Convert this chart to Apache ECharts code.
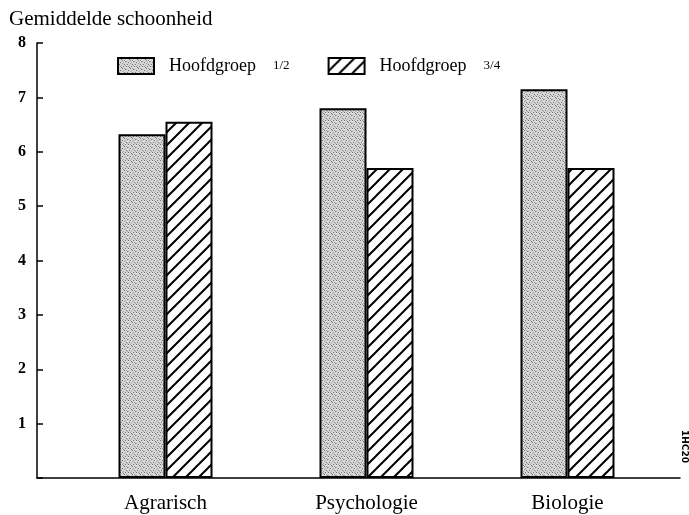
<!DOCTYPE html>
<html>
<head>
<meta charset="utf-8">
<script src="https://cdn.jsdelivr.net/npm/echarts@6/dist/echarts.min.js"></script>
<style>
html, body { margin: 0; padding: 0; background: #fff; }
#main { width: 689px; height: 515px; }
</style>
</head>
<body>
<div id="main"></div>
<script>
var categories = ['Agrarisch', 'Psychologie', 'Biologie'];
var seriesNames = ['Hoofdgroep 1/2', 'Hoofdgroep 3/4'];
var hoofdgroep12 = [6.32, 6.8, 7.15];
var hoofdgroep34 = [6.55, 5.7, 5.7];
var yTicks = [0, 1, 2, 3, 4, 5, 6, 7, 8];

// stippled gray texture
function stipple() {
    var c = document.createElement('canvas');
    c.width = 8; c.height = 8;
    var ctx = c.getContext('2d');
    ctx.fillStyle = '#d6d6d6';
    ctx.fillRect(0, 0, 8, 8);
    ctx.fillStyle = '#777';
    var dots = [[0, 0], [4, 2], [2, 4], [6, 6], [1, 6], [5, 0], [3, 1], [7, 3]];
    dots.forEach(function (d) { ctx.fillRect(d[0], d[1], 1, 1); });
    ctx.fillStyle = '#a4a4a4';
    [[2, 0], [6, 2], [0, 3], [4, 5], [7, 7], [3, 7], [5, 4]].forEach(function (d) { ctx.fillRect(d[0], d[1], 1, 1); });
    return c;
}

// diagonal "/" hatch
function hatch() {
    var s = 13;
    var c = document.createElement('canvas');
    c.width = s; c.height = s;
    var ctx = c.getContext('2d');
    ctx.fillStyle = '#fff';
    ctx.fillRect(0, 0, s, s);
    ctx.strokeStyle = '#000';
    ctx.lineWidth = 2;
    ctx.beginPath();
    ctx.moveTo(-1, s + 1); ctx.lineTo(s + 1, -1);
    ctx.moveTo(-1, 1); ctx.lineTo(1, -1);
    ctx.moveTo(s - 1, s + 1); ctx.lineTo(s + 1, s - 1);
    ctx.stroke();
    return c;
}

var myChart = echarts.init(document.getElementById('main'));
var serif = 'Liberation Serif';

option = {
    backgroundColor: '#fff',
    animation: false,
    title: {
        text: 'Gemiddelde schoonheid',
        left: 4,
        top: 4,
        textStyle: { fontFamily: serif, fontSize: 21, fontWeight: 'normal', color: '#000' }
    },
    legend: {
        left: 117,
        top: 57,
        padding: 0,
        icon: 'rect',
        itemWidth: 36,
        itemHeight: 16,
        itemGap: 38,
        formatter: function (name) {
            var p = name.split(' ');
            return '{a|' + p[0] + '}{b|' + p[1] + '}';
        },
        textStyle: {
            color: '#000',
            rich: {
                a: { fontFamily: serif, fontSize: 18, color: '#000', padding: [0, 0, 0, 10] },
                b: { fontFamily: serif, fontSize: 13, color: '#000', padding: [0, 0, 0, 17] }
            }
        },
        data: seriesNames
    },
    grid: [
        { left: 37, right: 9, top: 43, bottom: 37 },
        { left: 65, right: 21, top: 43, bottom: 37 }
    ],
    xAxis: [{
        gridIndex: 0,
        type: 'value',
        min: 0,
        max: 1,
        axisLine: { show: true, lineStyle: { color: '#000', width: 1.5 } },
        axisTick: { show: false },
        axisLabel: { show: false },
        splitLine: { show: false }
    }, {
        gridIndex: 1,
        type: 'category',
        data: categories,
        axisLine: { show: false },
        axisTick: { show: false },
        axisLabel: { margin: 15, fontFamily: serif, fontSize: 21, color: '#000' }
    }],
    yAxis: [{
        gridIndex: 0,
        type: 'value',
        min: yTicks[0],
        max: yTicks[yTicks.length - 1],
        interval: 1,
        axisLine: { show: true, lineStyle: { color: '#000', width: 1.5 } },
        axisTick: { show: true, inside: true, length: 6, lineStyle: { color: '#000', width: 1.5 } },
        axisLabel: {
            margin: 11,
            fontFamily: serif,
            fontSize: 16,
            fontWeight: 'bold',
            color: '#000',
            formatter: function (v) { return v === 0 ? '' : v; }
        },
        splitLine: { show: false }
    }, {
        gridIndex: 1,
        type: 'value',
        min: 0,
        max: 8,
        interval: 1,
        show: false
    }],
    series: [{
        name: seriesNames[0],
        type: 'bar',
        xAxisIndex: 1,
        yAxisIndex: 1,
        barWidth: 47,
        barGap: '0%',
        itemStyle: {
            color: { image: stipple(), repeat: 'repeat' },
            borderColor: '#000',
            borderWidth: 2
        },
        data: hoofdgroep12
    }, {
        name: seriesNames[1],
        type: 'bar',
        xAxisIndex: 1,
        yAxisIndex: 1,
        barWidth: 47,
        barGap: '0%',
        itemStyle: {
            color: { image: hatch(), repeat: 'repeat' },
            borderColor: '#000',
            borderWidth: 2
        },
        data: hoofdgroep34
    }],
    graphic: [{
        type: 'text',
        x: 689,
        y: 430,
        rotation: -Math.PI / 2,
        style: { text: '1HC20', fontFamily: 'DejaVu Sans', fontSize: 9, fontWeight: 'bold', fill: '#000' }
    }]
};
myChart.setOption(option);
</script>
</body>
</html>
